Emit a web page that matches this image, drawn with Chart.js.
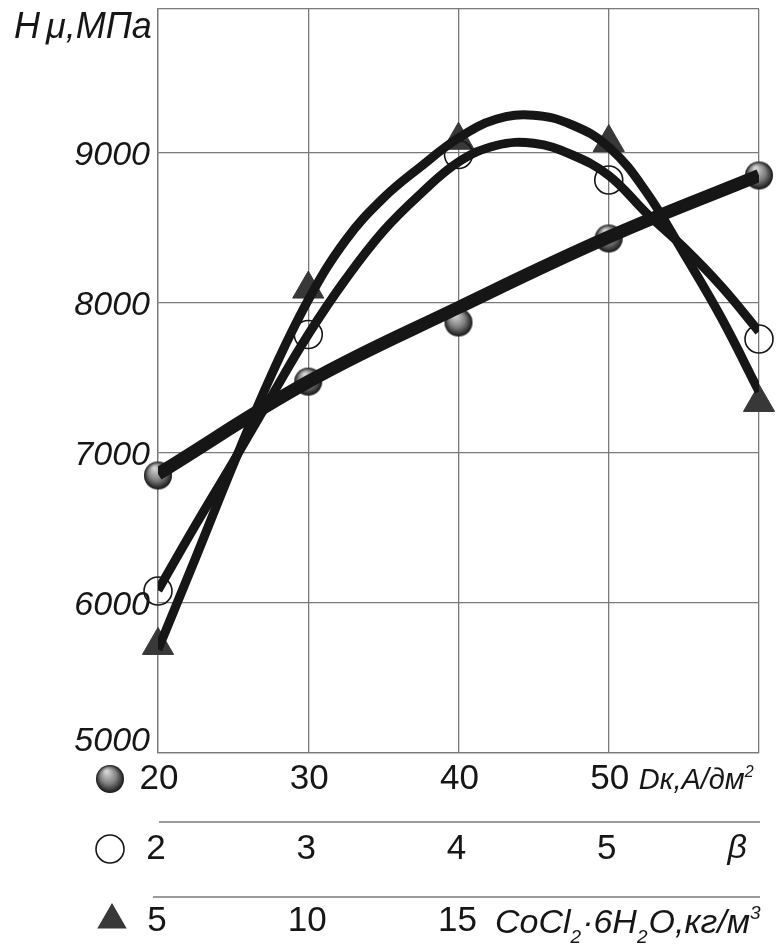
<!DOCTYPE html>
<html>
<head>
<meta charset="utf-8">
<script src="https://cdn.jsdelivr.net/npm/chart.js@4.4.1/dist/chart.umd.min.js"></script>
<style>
  body { margin: 0; background: #fff; }
  #wrap { width: 776px; height: 948px; }
</style>
</head>
<body>
<div id="wrap"><canvas id="hardChart" width="776" height="948"></canvas></div>
<script>
// x positions of the measured points (Dk scale)
const xPos = [20, 30, 40, 50, 60];
const yTicks = [5000, 6000, 7000, 8000, 9000];
const yTickLabels = ['5000', '6000', '7000', '8000', '9000'];
const yTop = 9960;

// three x scales drawn under the plot
const dkLabels = ['20', '30', '40', '50'];
const betaLabels = ['2', '3', '4', '5'];
const coclLabels = ['5', '10', '15'];

// measured points
const dkPoints = [6850, 7476, 7870, 8430, 8850];
const betaPoints = [6080, 7790, 8990, 8820, 7760];
const coclPoints = [5717, 8093, 9085, 9070, 7337];

// fitted curves
const dkCurveX = [20, 30, 40, 50, 60];
const dkCurveY = [6860, 7475, 7970, 8440, 8850];
const fitX = [20, 22.5, 25, 27.5, 30, 32.5, 35, 37.5, 40, 42.5, 45, 47.5, 50, 52.5, 55, 57.5, 60];
const betaCurveY = [6085, 6520, 6940, 7370, 7790, 8160, 8480, 8730, 8940, 9050, 9065, 8990, 8850, 8600, 8370, 8110, 7810];
const coclCurveY = [5690, 6300, 6920, 7510, 8020, 8420, 8700, 8910, 9100, 9225, 9252, 9190, 9040, 8740, 8330, 7900, 7410];

const FONT = '"Liberation Sans", Arial, sans-serif';
const INK = '#161616';

function pts(xs, ys) {
  return xs.map((x, i) => ({ x: x, y: ys[i] }));
}

// shaded ball used for the Dk points
function makeBall(r) {
  const c = document.createElement('canvas');
  c.width = c.height = r * 2 + 2;
  const g = c.getContext('2d');
  const m = r + 1;
  const grad = g.createRadialGradient(m - r * 0.25, m - r * 0.55, 1, m, m, r);
  grad.addColorStop(0, '#d4d4d4');
  grad.addColorStop(0.55, '#808080');
  grad.addColorStop(1, '#151515');
  g.fillStyle = grad;
  g.beginPath();
  g.arc(m, m, r, 0, Math.PI * 2);
  g.fill();
  return c;
}
const ball = makeBall(14);

function drawTriangle(ctx, x, y, r) {
  ctx.beginPath();
  ctx.moveTo(x, y - r);
  ctx.lineTo(x + r * 0.866, y + r / 2);
  ctx.lineTo(x - r * 0.866, y + r / 2);
  ctx.closePath();
  ctx.fillStyle = '#383838';
  ctx.fill();
}

// draws a string with sub/superscripts: parts = [[text, 'n'|'sub'|'sup'], ...]
function richText(ctx, parts, x, y, size) {
  parts.forEach(p => {
    const small = p[1] !== 'n';
    ctx.font = 'italic ' + (small ? Math.round(size * 0.55) : size) + 'px ' + FONT;
    let dy = 0;
    if (p[1] === 'sub') dy = size * 0.3;
    if (p[1] === 'sup') dy = -size * 0.42;
    ctx.fillText(p[0], x, y + dy);
    x += ctx.measureText(p[0]).width + (small ? 1 : 0);
  });
}

const overlay = {
  id: 'overlay',
  afterDraw(chart) {
    const ctx = chart.ctx;
    const xs = chart.scales.x;
    const ys = chart.scales.y;
    const base = ys.bottom;
    ctx.save();
    ctx.fillStyle = INK;

    // y tick labels
    ctx.font = 'italic 34px ' + FONT;
    ctx.textAlign = 'right';
    ctx.textBaseline = 'middle';
    yTicks.forEach((v, i) => {
      let y = ys.getPixelForValue(v) + 3;
      if (i === 0) y -= 14;
      ctx.fillText(yTickLabels[i], xs.left - 8, y);
    });

    // axis title
    ctx.textAlign = 'left';
    ctx.textBaseline = 'alphabetic';
    ctx.font = 'italic 36px ' + FONT;
    ctx.fillText('H', 14, 38);
    ctx.fillText('μ,МПа', 14 + ctx.measureText('H').width + 6, 38);

    // row 1: Dk
    const r1 = base + 26, r2 = base + 96, r3 = base + 168;
    ctx.drawImage(ball, 110 - ball.width / 2, r1 - ball.height / 2);
    ctx.font = '35px ' + FONT;
    ctx.textAlign = 'center';
    ctx.textBaseline = 'middle';
    dkLabels.forEach((t, i) => ctx.fillText(t, xs.getPixelForValue(xPos[i]) + 1, r1));
    ctx.textAlign = 'left';
    ctx.textBaseline = 'alphabetic';
    richText(ctx, [['Dк,А/дм', 'n'], ['2', 'sup']], xs.getPixelForValue(50) + 30, r1 + 10, 29);

    // separators
    ctx.strokeStyle = '#7a7a7a';
    ctx.lineWidth = 1.5;
    ctx.beginPath();
    ctx.moveTo(xs.left + 1, base + 69);
    ctx.lineTo(xs.right + 1, base + 69);
    ctx.moveTo(xs.left - 5, base + 144);
    ctx.lineTo(xs.right + 1, base + 144);
    ctx.stroke();

    // row 2: beta
    ctx.beginPath();
    ctx.arc(110, r2, 14, 0, Math.PI * 2);
    ctx.strokeStyle = INK;
    ctx.lineWidth = 1.6;
    ctx.stroke();
    ctx.font = '35px ' + FONT;
    ctx.textAlign = 'center';
    ctx.textBaseline = 'middle';
    betaLabels.forEach((t, i) => ctx.fillText(t, xs.getPixelForValue(xPos[i]) - 2, r2));
    ctx.font = 'italic 34px ' + FONT;
    ctx.textAlign = 'right';
    ctx.fillText('β', xs.getPixelForValue(60) - 12, r2);

    // row 3: CoCl2*6H2O
    drawTriangle(ctx, 112, r3 - 1, 17);
    ctx.fillStyle = INK;
    ctx.font = '35px ' + FONT;
    ctx.textAlign = 'center';
    coclLabels.forEach((t, i) => ctx.fillText(t, xs.getPixelForValue(xPos[i]) - 1, r3));
    ctx.textAlign = 'left';
    ctx.textBaseline = 'alphabetic';
    richText(ctx, [['CoCl', 'n'], ['2', 'sub'], ['·6H', 'n'], ['2', 'sub'], ['O,кг/м', 'n'], ['3', 'sup']],
      495, r3 + 12, 34);
    ctx.restore();
  }
};

const config = {
  type: 'line',
  data: {
    datasets: [
      {
        label: 'Dk fit',
        data: pts(dkCurveX, dkCurveY),
        borderColor: INK,
        borderWidth: 13,
        pointRadius: 0,
        tension: 0.4,
        order: 1
      },
      {
        label: 'beta fit',
        data: pts(fitX, betaCurveY),
        borderColor: INK,
        borderWidth: 9,
        pointRadius: 0,
        tension: 0.4,
        order: 1
      },
      {
        label: 'CoCl2 fit',
        data: pts(fitX, coclCurveY),
        borderColor: INK,
        borderWidth: 9,
        pointRadius: 0,
        tension: 0.4,
        order: 1
      },
      {
        label: 'Dk',
        data: pts(xPos, dkPoints),
        showLine: false,
        pointStyle: ball,
        pointRadius: 14,
        clip: false,
        order: 2
      },
      {
        label: 'beta',
        data: pts(xPos, betaPoints),
        showLine: false,
        pointStyle: 'circle',
        pointRadius: 14,
        pointBackgroundColor: 'rgba(255,255,255,0)',
        pointBorderColor: INK,
        pointBorderWidth: 1.6,
        clip: false,
        order: 2
      },
      {
        label: 'CoCl2',
        data: pts(xPos, coclPoints),
        showLine: false,
        pointStyle: 'triangle',
        pointRadius: 18,
        pointBackgroundColor: '#383838',
        pointBorderColor: '#383838',
        pointBorderWidth: 1,
        clip: false,
        order: 2
      }
    ]
  },
  options: {
    responsive: false,
    animation: false,
    layout: { autoPadding: false, padding: { top: 9, right: 17, left: 0, bottom: 0 } },
    plugins: { legend: { display: false }, tooltip: { enabled: false } },
    scales: {
      x: {
        type: 'linear',
        min: 20,
        max: 60,
        afterBuildTicks: s => { s.ticks = xPos.map(v => ({ value: v })); },
        afterFit: s => { s.height = 195; },
        ticks: { display: false },
        grid: { color: '#7a7a7a', lineWidth: 1.3, drawTicks: false },
        border: { color: '#7a7a7a', width: 1.3 }
      },
      y: {
        min: 5000,
        max: yTop,
        afterBuildTicks: s => { s.ticks = yTicks.concat([yTop]).map(v => ({ value: v })); },
        afterFit: s => { s.width = 158; },
        ticks: { display: false },
        grid: { color: '#7a7a7a', lineWidth: 1.3, drawTicks: false },
        border: { color: '#7a7a7a', width: 1.3 }
      }
    }
  },
  plugins: [overlay]
};

const hardChart = new Chart(document.getElementById('hardChart'), config);
</script>
</body>
</html>
